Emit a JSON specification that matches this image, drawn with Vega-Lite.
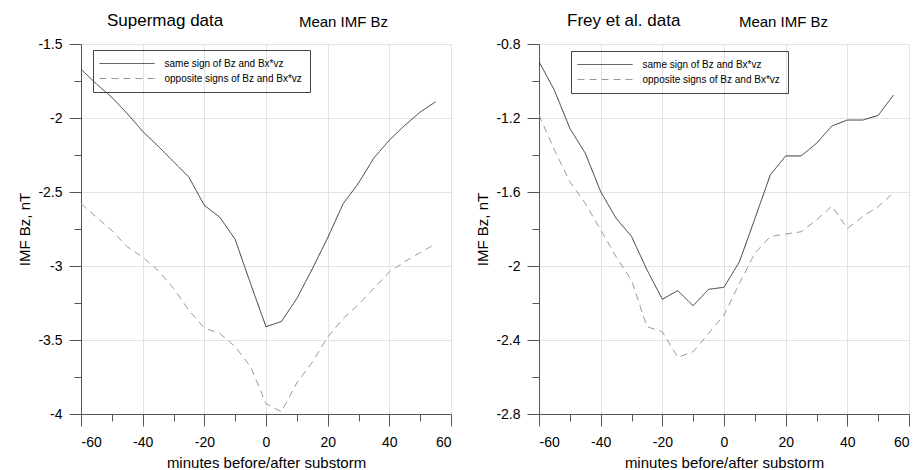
{
  "$schema": "https://vega.github.io/schema/vega-lite/v6.json",
  "padding": {"left": 17, "top": 12, "right": 5, "bottom": 0},
  "spacing": 23,
  "datasets": {
    "supermag": [
      {"t": -60, "bz": -1.67, "series": "same sign of Bz and Bx*vz"},
      {"t": -55, "bz": -1.77, "series": "same sign of Bz and Bx*vz"},
      {"t": -50, "bz": -1.86, "series": "same sign of Bz and Bx*vz"},
      {"t": -45, "bz": -1.97, "series": "same sign of Bz and Bx*vz"},
      {"t": -40, "bz": -2.09, "series": "same sign of Bz and Bx*vz"},
      {"t": -35, "bz": -2.19, "series": "same sign of Bz and Bx*vz"},
      {"t": -30, "bz": -2.295, "series": "same sign of Bz and Bx*vz"},
      {"t": -25, "bz": -2.4, "series": "same sign of Bz and Bx*vz"},
      {"t": -20, "bz": -2.59, "series": "same sign of Bz and Bx*vz"},
      {"t": -15, "bz": -2.67, "series": "same sign of Bz and Bx*vz"},
      {"t": -10, "bz": -2.82, "series": "same sign of Bz and Bx*vz"},
      {"t": -5, "bz": -3.12, "series": "same sign of Bz and Bx*vz"},
      {"t": 0, "bz": -3.41, "series": "same sign of Bz and Bx*vz"},
      {"t": 5, "bz": -3.375, "series": "same sign of Bz and Bx*vz"},
      {"t": 10, "bz": -3.22, "series": "same sign of Bz and Bx*vz"},
      {"t": 15, "bz": -3.02, "series": "same sign of Bz and Bx*vz"},
      {"t": 20, "bz": -2.81, "series": "same sign of Bz and Bx*vz"},
      {"t": 25, "bz": -2.58, "series": "same sign of Bz and Bx*vz"},
      {"t": 30, "bz": -2.44, "series": "same sign of Bz and Bx*vz"},
      {"t": 35, "bz": -2.27, "series": "same sign of Bz and Bx*vz"},
      {"t": 40, "bz": -2.15, "series": "same sign of Bz and Bx*vz"},
      {"t": 45, "bz": -2.05, "series": "same sign of Bz and Bx*vz"},
      {"t": 50, "bz": -1.96, "series": "same sign of Bz and Bx*vz"},
      {"t": 55, "bz": -1.89, "series": "same sign of Bz and Bx*vz"},
      {"t": -60, "bz": -2.58, "series": "opposite signs of Bz and Bx*vz"},
      {"t": -55, "bz": -2.67, "series": "opposite signs of Bz and Bx*vz"},
      {"t": -50, "bz": -2.76, "series": "opposite signs of Bz and Bx*vz"},
      {"t": -45, "bz": -2.87, "series": "opposite signs of Bz and Bx*vz"},
      {"t": -40, "bz": -2.94, "series": "opposite signs of Bz and Bx*vz"},
      {"t": -35, "bz": -3.03, "series": "opposite signs of Bz and Bx*vz"},
      {"t": -30, "bz": -3.15, "series": "opposite signs of Bz and Bx*vz"},
      {"t": -25, "bz": -3.3, "series": "opposite signs of Bz and Bx*vz"},
      {"t": -20, "bz": -3.42, "series": "opposite signs of Bz and Bx*vz"},
      {"t": -15, "bz": -3.455, "series": "opposite signs of Bz and Bx*vz"},
      {"t": -10, "bz": -3.545, "series": "opposite signs of Bz and Bx*vz"},
      {"t": -5, "bz": -3.68, "series": "opposite signs of Bz and Bx*vz"},
      {"t": 0, "bz": -3.93, "series": "opposite signs of Bz and Bx*vz"},
      {"t": 5, "bz": -3.985, "series": "opposite signs of Bz and Bx*vz"},
      {"t": 10, "bz": -3.79, "series": "opposite signs of Bz and Bx*vz"},
      {"t": 15, "bz": -3.65, "series": "opposite signs of Bz and Bx*vz"},
      {"t": 20, "bz": -3.48, "series": "opposite signs of Bz and Bx*vz"},
      {"t": 25, "bz": -3.355, "series": "opposite signs of Bz and Bx*vz"},
      {"t": 30, "bz": -3.26, "series": "opposite signs of Bz and Bx*vz"},
      {"t": 35, "bz": -3.15, "series": "opposite signs of Bz and Bx*vz"},
      {"t": 40, "bz": -3.04, "series": "opposite signs of Bz and Bx*vz"},
      {"t": 45, "bz": -2.97, "series": "opposite signs of Bz and Bx*vz"},
      {"t": 50, "bz": -2.91, "series": "opposite signs of Bz and Bx*vz"},
      {"t": 55, "bz": -2.85, "series": "opposite signs of Bz and Bx*vz"}
    ],
    "frey": [
      {"t": -60, "bz": -0.895, "series": "same sign of Bz and Bx*vz"},
      {"t": -55, "bz": -1.05, "series": "same sign of Bz and Bx*vz"},
      {"t": -50, "bz": -1.256, "series": "same sign of Bz and Bx*vz"},
      {"t": -45, "bz": -1.39, "series": "same sign of Bz and Bx*vz"},
      {"t": -40, "bz": -1.598, "series": "same sign of Bz and Bx*vz"},
      {"t": -35, "bz": -1.742, "series": "same sign of Bz and Bx*vz"},
      {"t": -30, "bz": -1.84, "series": "same sign of Bz and Bx*vz"},
      {"t": -25, "bz": -2.02, "series": "same sign of Bz and Bx*vz"},
      {"t": -20, "bz": -2.18, "series": "same sign of Bz and Bx*vz"},
      {"t": -15, "bz": -2.133, "series": "same sign of Bz and Bx*vz"},
      {"t": -10, "bz": -2.215, "series": "same sign of Bz and Bx*vz"},
      {"t": -5, "bz": -2.126, "series": "same sign of Bz and Bx*vz"},
      {"t": 0, "bz": -2.115, "series": "same sign of Bz and Bx*vz"},
      {"t": 5, "bz": -1.977, "series": "same sign of Bz and Bx*vz"},
      {"t": 10, "bz": -1.745, "series": "same sign of Bz and Bx*vz"},
      {"t": 15, "bz": -1.508, "series": "same sign of Bz and Bx*vz"},
      {"t": 20, "bz": -1.405, "series": "same sign of Bz and Bx*vz"},
      {"t": 25, "bz": -1.405, "series": "same sign of Bz and Bx*vz"},
      {"t": 30, "bz": -1.337, "series": "same sign of Bz and Bx*vz"},
      {"t": 35, "bz": -1.243, "series": "same sign of Bz and Bx*vz"},
      {"t": 40, "bz": -1.211, "series": "same sign of Bz and Bx*vz"},
      {"t": 45, "bz": -1.211, "series": "same sign of Bz and Bx*vz"},
      {"t": 50, "bz": -1.186, "series": "same sign of Bz and Bx*vz"},
      {"t": 55, "bz": -1.076, "series": "same sign of Bz and Bx*vz"},
      {"t": -60, "bz": -1.184, "series": "opposite signs of Bz and Bx*vz"},
      {"t": -55, "bz": -1.373, "series": "opposite signs of Bz and Bx*vz"},
      {"t": -50, "bz": -1.544, "series": "opposite signs of Bz and Bx*vz"},
      {"t": -45, "bz": -1.661, "series": "opposite signs of Bz and Bx*vz"},
      {"t": -40, "bz": -1.805, "series": "opposite signs of Bz and Bx*vz"},
      {"t": -35, "bz": -1.95, "series": "opposite signs of Bz and Bx*vz"},
      {"t": -30, "bz": -2.076, "series": "opposite signs of Bz and Bx*vz"},
      {"t": -25, "bz": -2.328, "series": "opposite signs of Bz and Bx*vz"},
      {"t": -20, "bz": -2.355, "series": "opposite signs of Bz and Bx*vz"},
      {"t": -15, "bz": -2.494, "series": "opposite signs of Bz and Bx*vz"},
      {"t": -10, "bz": -2.463, "series": "opposite signs of Bz and Bx*vz"},
      {"t": -5, "bz": -2.364, "series": "opposite signs of Bz and Bx*vz"},
      {"t": 0, "bz": -2.265, "series": "opposite signs of Bz and Bx*vz"},
      {"t": 5, "bz": -2.094, "series": "opposite signs of Bz and Bx*vz"},
      {"t": 10, "bz": -1.931, "series": "opposite signs of Bz and Bx*vz"},
      {"t": 15, "bz": -1.841, "series": "opposite signs of Bz and Bx*vz"},
      {"t": 20, "bz": -1.827, "series": "opposite signs of Bz and Bx*vz"},
      {"t": 25, "bz": -1.815, "series": "opposite signs of Bz and Bx*vz"},
      {"t": 30, "bz": -1.751, "series": "opposite signs of Bz and Bx*vz"},
      {"t": 35, "bz": -1.676, "series": "opposite signs of Bz and Bx*vz"},
      {"t": 40, "bz": -1.797, "series": "opposite signs of Bz and Bx*vz"},
      {"t": 45, "bz": -1.733, "series": "opposite signs of Bz and Bx*vz"},
      {"t": 50, "bz": -1.679, "series": "opposite signs of Bz and Bx*vz"},
      {"t": 55, "bz": -1.604, "series": "opposite signs of Bz and Bx*vz"}
    ]
  },
  "hconcat": [
    {
      "width": 370,
      "height": 370,
      "title": {"text": "Supermag data", "anchor": "start", "frame": "group", "dx": 26, "fontSize": 17, "fontWeight": "normal", "baseline": "alphabetic", "offset": -29},
      "layer": [
        {
          "data": {"name": "supermag"},
          "mark": {"type": "line", "strokeWidth": 1, "clip": true},
          "encoding": {
            "x": {"field": "t", "type": "quantitative", "scale": {"domain": [-60, 60], "nice": false, "zero": false},
              "axis": {"orient": "bottom", "title": "minutes before/after substorm", "values": [-60, -40, -20, 0, 20, 40, 60], "labelExpr": "'' + datum.value", "tickSize": 12, "labelPadding": 9, "titlePadding": 6}},
            "y": {"field": "bz", "type": "quantitative", "scale": {"domain": [-4, -1.5], "nice": false, "zero": false},
              "axis": {"orient": "left", "title": "IMF Bz, nT", "values": [-4, -3.5, -3, -2.5, -2, -1.5], "labelExpr": "'' + datum.value", "tickSize": 12, "labelPadding": 7, "titlePadding": 5}},
            "color": {"field": "series", "type": "nominal", "scale": {"domain": ["same sign of Bz and Bx*vz", "opposite signs of Bz and Bx*vz"], "range": ["#333333", "#9a9a9a"]},
              "legend": {"orient": "none", "legendX": 12, "legendY": 6}},
            "strokeDash": {"field": "series", "type": "nominal", "scale": {"domain": ["same sign of Bz and Bx*vz", "opposite signs of Bz and Bx*vz"], "range": [[1, 0], [7, 5]]},
              "legend": {"orient": "none", "legendX": 12, "legendY": 6}}
          }
        },
        {
          "data": {"values": []},
          "mark": {"type": "rule"},
          "encoding": {
            "x": {"field": "t", "type": "quantitative", "scale": {"domain": [-60, 60], "nice": false, "zero": false},
              "axis": {"orient": "bottom", "title": null, "values": [-50, -30, -10, 10, 30, 50], "labels": false, "grid": false, "domain": false, "tickSize": 7}},
            "y": {"field": "bz", "type": "quantitative", "scale": {"domain": [-4, -1.5], "nice": false, "zero": false},
              "axis": {"orient": "left", "title": null, "values": [-3.75, -3.25, -2.75, -2.25, -1.75], "labels": false, "grid": false, "domain": false, "tickSize": 7}}
          }
        },
        {
          "data": {"values": []},
          "mark": {"type": "rule"},
          "encoding": {
            "x": {"field": "t", "type": "quantitative", "scale": {"domain": [-60, 60], "nice": false, "zero": false},
              "axis": {"orient": "top", "domain": false, "ticks": false, "labels": false, "grid": false, "title": "Mean IMF Bz", "titleX": 262, "titleY": -18, "titleAlign": "center", "titleBaseline": "alphabetic", "titleFontSize": 15}},
            "y": {"field": "bz", "type": "quantitative", "scale": {"domain": [-4, -1.5], "nice": false, "zero": false}, "axis": null}
          }
        }
      ],
      "resolve": {"axis": {"x": "independent", "y": "independent"}}
    },
    {
      "width": 370,
      "height": 370,
      "title": {"text": "Frey et al. data", "anchor": "start", "frame": "group", "dx": 28, "fontSize": 17, "fontWeight": "normal", "baseline": "alphabetic", "offset": -29},
      "layer": [
        {
          "data": {"name": "frey"},
          "mark": {"type": "line", "strokeWidth": 1, "clip": true},
          "encoding": {
            "x": {"field": "t", "type": "quantitative", "scale": {"domain": [-60, 60], "nice": false, "zero": false},
              "axis": {"orient": "bottom", "title": "minutes before/after substorm", "values": [-60, -40, -20, 0, 20, 40, 60], "labelExpr": "'' + datum.value", "tickSize": 12, "labelPadding": 9, "titlePadding": 6}},
            "y": {"field": "bz", "type": "quantitative", "scale": {"domain": [-2.8, -0.8], "nice": false, "zero": false},
              "axis": {"orient": "left", "title": "IMF Bz, nT", "values": [-2.8, -2.4, -2, -1.6, -1.2, -0.8], "labelExpr": "'' + datum.value", "tickSize": 12, "labelPadding": 7, "titlePadding": 5}},
            "color": {"field": "series", "type": "nominal", "scale": {"domain": ["same sign of Bz and Bx*vz", "opposite signs of Bz and Bx*vz"], "range": ["#333333", "#9a9a9a"]},
              "legend": {"orient": "none", "legendX": 32, "legendY": 7}},
            "strokeDash": {"field": "series", "type": "nominal", "scale": {"domain": ["same sign of Bz and Bx*vz", "opposite signs of Bz and Bx*vz"], "range": [[1, 0], [7, 5]]},
              "legend": {"orient": "none", "legendX": 32, "legendY": 7}}
          }
        },
        {
          "data": {"values": []},
          "mark": {"type": "rule"},
          "encoding": {
            "x": {"field": "t", "type": "quantitative", "scale": {"domain": [-60, 60], "nice": false, "zero": false},
              "axis": {"orient": "bottom", "title": null, "values": [-50, -30, -10, 10, 30, 50], "labels": false, "grid": false, "domain": false, "tickSize": 7}},
            "y": {"field": "bz", "type": "quantitative", "scale": {"domain": [-2.8, -0.8], "nice": false, "zero": false},
              "axis": {"orient": "left", "title": null, "values": [-2.6, -2.2, -1.8, -1.4, -1], "labels": false, "grid": false, "domain": false, "tickSize": 7}}
          }
        },
        {
          "data": {"values": []},
          "mark": {"type": "rule"},
          "encoding": {
            "x": {"field": "t", "type": "quantitative", "scale": {"domain": [-60, 60], "nice": false, "zero": false},
              "axis": {"orient": "top", "domain": false, "ticks": false, "labels": false, "grid": false, "title": "Mean IMF Bz", "titleX": 244, "titleY": -18, "titleAlign": "center", "titleBaseline": "alphabetic", "titleFontSize": 15}},
            "y": {"field": "bz", "type": "quantitative", "scale": {"domain": [-2.8, -0.8], "nice": false, "zero": false}, "axis": null}
          }
        }
      ],
      "resolve": {"axis": {"x": "independent", "y": "independent"}}
    }
  ],
  "resolve": {"scale": {"color": "independent", "strokeDash": "independent"}},
  "config": {
    "font": "Liberation Sans",
    "view": {"stroke": null},
    "axis": {
      "domainColor": "#555555",
      "tickColor": "#555555",
      "labelColor": "#000000",
      "labelFontSize": 14,
      "titleColor": "#000000",
      "titleFontSize": 15,
      "titleFontWeight": "normal",
      "gridColor": "#e2e2e2",
      "domainWidth": 1,
      "tickWidth": 1
    },
    "legend": {
      "title": null,
      "strokeColor": "#444444",
      "padding": 8,
      "symbolType": "M-5.5,0H5.5",
      "symbolSize": 100,
      "symbolOffset": 20.5,
      "symbolStrokeWidth": 1,
      "labelOffset": 32,
      "labelFontSize": 10,
      "labelColor": "#000000",
      "rowPadding": 4,
      "labelLimit": 300
    }
  }
}
